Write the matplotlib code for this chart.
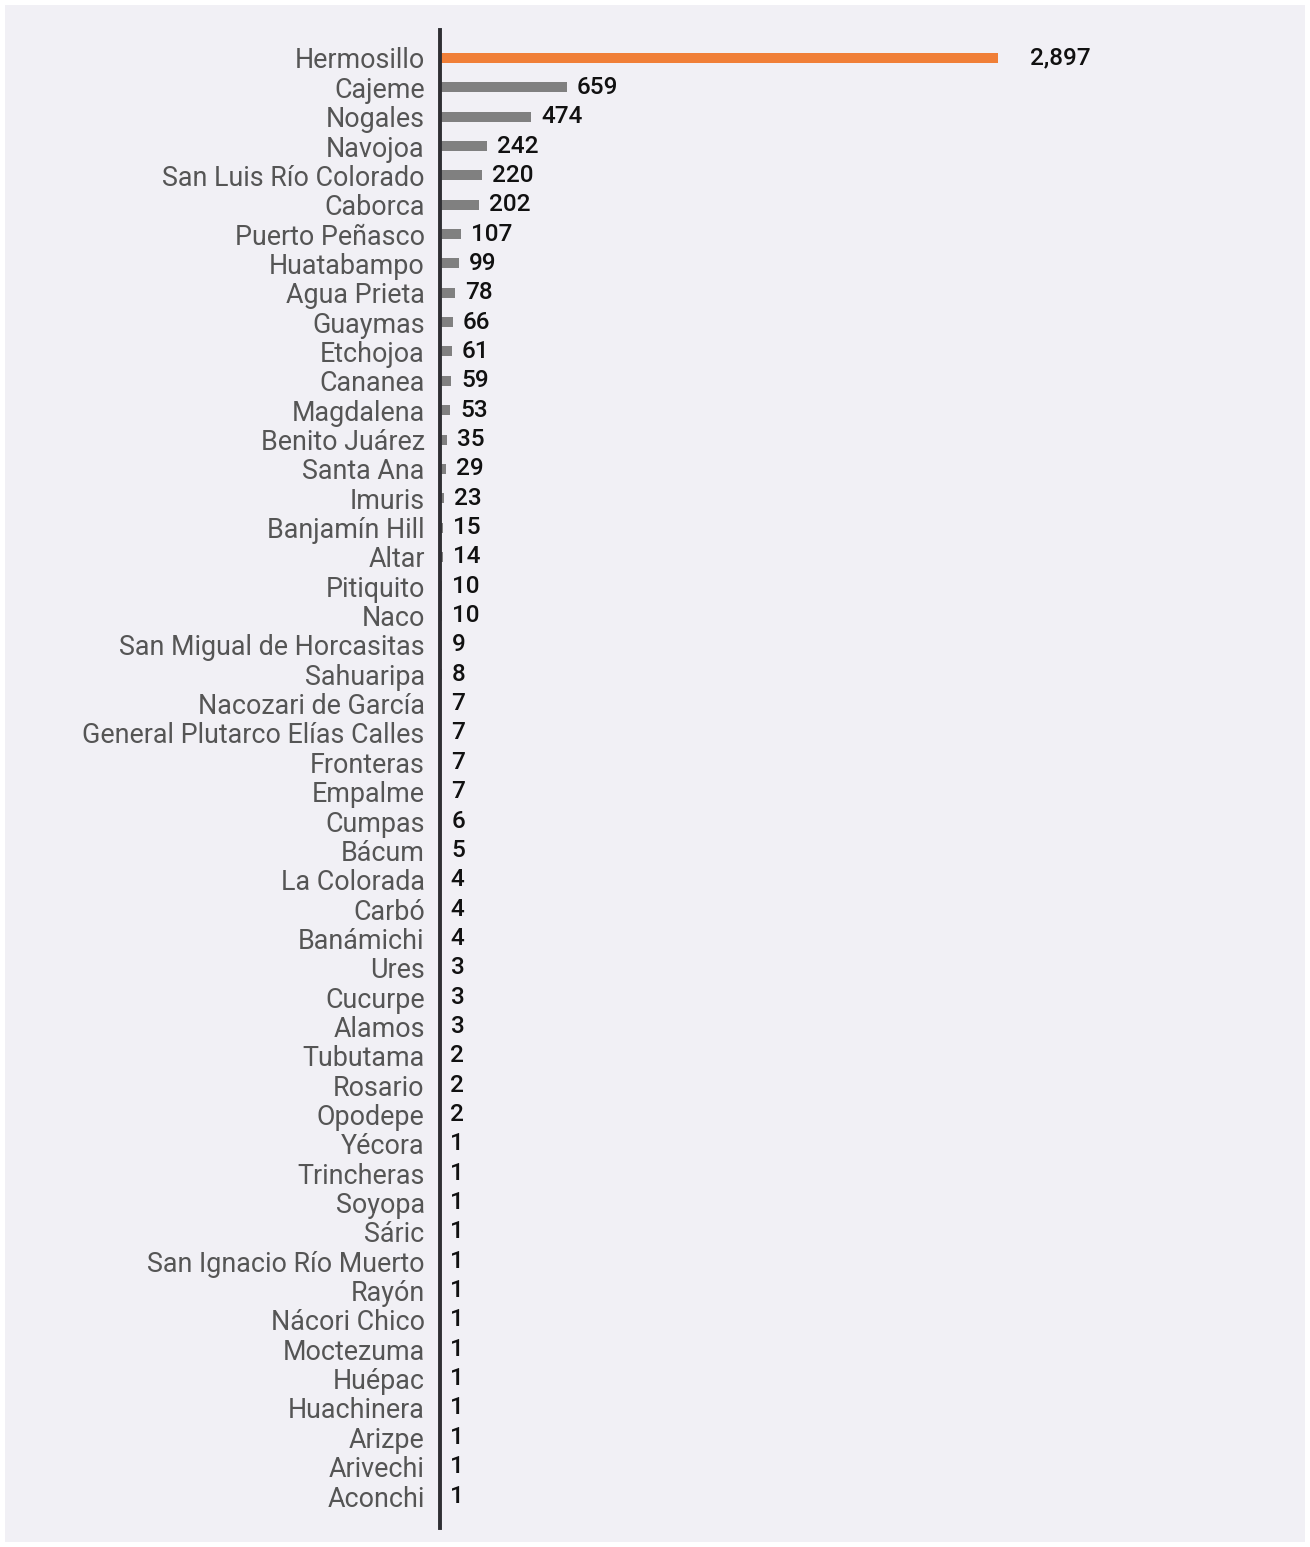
import matplotlib
matplotlib.use("Agg")
import matplotlib.pyplot as plt
from matplotlib.patches import Rectangle

municipios = ["Hermosillo", "Cajeme", "Nogales", "Navojoa", "San Luis Río Colorado", "Caborca",
              "Puerto Peñasco", "Huatabampo", "Agua Prieta", "Guaymas", "Etchojoa", "Cananea",
              "Magdalena", "Benito Juárez", "Santa Ana", "Imuris", "Banjamín Hill", "Altar",
              "Pitiquito", "Naco", "San Migual de Horcasitas", "Sahuaripa", "Nacozari de García",
              "General Plutarco Elías Calles", "Fronteras", "Empalme", "Cumpas", "Bácum",
              "La Colorada", "Carbó", "Banámichi", "Ures", "Cucurpe", "Alamos", "Tubutama",
              "Rosario", "Opodepe", "Yécora", "Trincheras", "Soyopa", "Sáric",
              "San Ignacio Río Muerto", "Rayón", "Nácori Chico", "Moctezuma", "Huépac",
              "Huachinera", "Arizpe", "Arivechi", "Aconchi"]
casos = [2897, 659, 474, 242, 220, 202, 107, 99, 78, 66, 61, 59, 53, 35, 29, 23, 15, 14,
         10, 10, 9, 8, 7, 7, 7, 7, 6, 5, 4, 4, 4, 3, 3, 3, 2, 2, 2, 1, 1, 1, 1, 1, 1, 1, 1,
         1, 1, 1, 1, 1]
value_labels = ["2,897"] + [str(v) for v in casos[1:]]

W, H = 1310, 1547
fig = plt.figure(figsize=(W / 100, H / 100), dpi=100, facecolor="white")
bg = Rectangle((5 / W, 5 / H), 1300 / W, 1537 / H, transform=fig.transFigure,
               facecolor="#f1f0f5", edgecolor="none", zorder=-10)
fig.add_artist(bg)

left = 440 / W
ax = fig.add_axes([left, 1 - 1528 / H, (1305 - 440) / W, (1528 - 30) / H])
ax.set_zorder(5)
ax.set_facecolor("none")

ypos = list(range(len(municipios)))
colors = ["#f07f37"] + ["#808080"] * (len(municipios) - 1)
ax.barh(ypos, casos, height=0.34, color=colors, zorder=2)

ax.set_xlim(0, 2897 * (1305 - 440) / (998 - 440))
ax.set_ylim(49 + 1.09, -0.954)

ax.set_yticks(ypos)
ax.set_yticklabels(municipios, fontsize=19.4, color="#555555", family=["Roboto", "DejaVu Sans"])
ax.tick_params(axis="y", length=0, pad=11)
ax.set_xticks([])

for s in ["top", "right", "bottom"]:
    ax.spines[s].set_visible(False)
ax.spines["left"].set_color("#2f2f33")
ax.spines["left"].set_linewidth(2.8)

for i, (v, lab) in enumerate(zip(casos, value_labels)):
    off = 32 if i == 0 else 10
    ax.annotate(lab, xy=(v, i), xytext=(off * 0.72, 0), textcoords="offset points",
                va="center", ha="left", fontsize=17.5, fontweight="medium", color="#111111",
                family=["Roboto", "DejaVu Sans"])

fig.savefig("out.png", dpi=100, facecolor="white")
